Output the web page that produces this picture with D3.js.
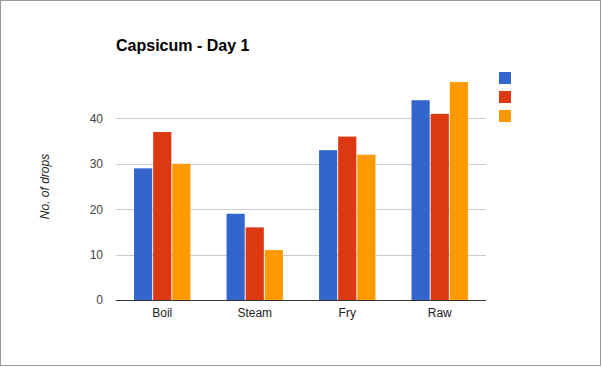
<!DOCTYPE html>
<html><head><meta charset="utf-8">
<script src="https://cdn.jsdelivr.net/npm/d3@7"></script>
<style>body{margin:0;background:#fff}svg{display:block;font-family:Arial,"Liberation Sans",sans-serif}</style>
</head><body><svg id="c" width="602" height="367"></svg>
<script>
const categories = ["Boil", "Steam", "Fry", "Raw"];
const seriesA = [29, 19, 33, 44];
const seriesB = [37, 16, 36, 41];
const seriesC = [30, 11, 32, 48];
const yTicks = [0, 10, 20, 30, 40];
const colors = ["#3366cc", "#dc3912", "#ff9900"];
const title = "Capsicum - Day 1";
const yTitle = "No. of drops";

const svg = d3.select("#c");
svg.append("rect").attr("x",0.5).attr("y",0.5).attr("width",600).attr("height",365)
  .attr("fill","#fff").attr("stroke","#999");

const m = {l:116, r:486, t:73, b:300};
const x = d3.scaleBand().domain(categories).range([m.l, m.r]).paddingInner(0.39).paddingOuter(0.195);
const series = [seriesA, seriesB, seriesC];
const xs = d3.scaleBand().domain([0,1,2]).range([0, x.bandwidth()]).paddingInner(0.05);
const y = d3.scaleLinear().domain([0, 50]).range([m.b, m.t]);

// gridlines
svg.append("g").selectAll("line").data(yTicks.filter(d=>d>0)).join("line")
  .attr("x1",m.l).attr("x2",m.r).attr("y1",d=>Math.round(y(d))+0.5).attr("y2",d=>Math.round(y(d))+0.5)
  .attr("stroke","#cccccc");

// y axis labels
const ya = svg.append("g").attr("transform",`translate(${m.l},0)`)
  .call(d3.axisLeft(y).tickValues(yTicks).tickSize(0).tickPadding(13));
ya.select(".domain").remove();
ya.selectAll("text").attr("font-size",12).attr("fill","#444").attr("font-family","Arial,'Liberation Sans',sans-serif");

// bars
categories.forEach((c,i)=>{
  svg.append("g").selectAll("rect").data(series.map((s,k)=>({k, v:s[i]}))).join("rect")
    .attr("x",d=>x(c)+xs(d.k)).attr("width",xs.bandwidth())
    .attr("y",d=>y(d.v)).attr("height",d=>y(0)-y(d.v))
    .attr("fill",d=>colors[d.k]);
});

// baseline
svg.append("line").attr("x1",m.l).attr("x2",m.r).attr("y1",m.b+0.5).attr("y2",m.b+0.5).attr("stroke","#333");

// x axis labels
const xa = svg.append("g").attr("transform",`translate(0,${m.b})`)
  .call(d3.axisBottom(x).tickSize(0).tickPadding(8));
xa.select(".domain").remove();
xa.selectAll("text").attr("font-size",12).attr("fill","#222").attr("font-family","Arial,'Liberation Sans',sans-serif");

// title
svg.append("text").attr("x",116).attr("y",51).attr("font-size",16).attr("font-weight","bold")
  .attr("fill","#000").text(title);

// y title
svg.append("text").attr("transform",`translate(49,${(m.t+m.b)/2}) rotate(-90)`)
  .attr("text-anchor","middle").attr("font-size",12).attr("font-style","italic").attr("fill","#222").text(yTitle);

// legend
svg.append("g").selectAll("rect").data(colors).join("rect")
  .attr("x",499).attr("y",(d,i)=>72+i*19).attr("width",12).attr("height",12).attr("fill",d=>d);
</script></body></html>
